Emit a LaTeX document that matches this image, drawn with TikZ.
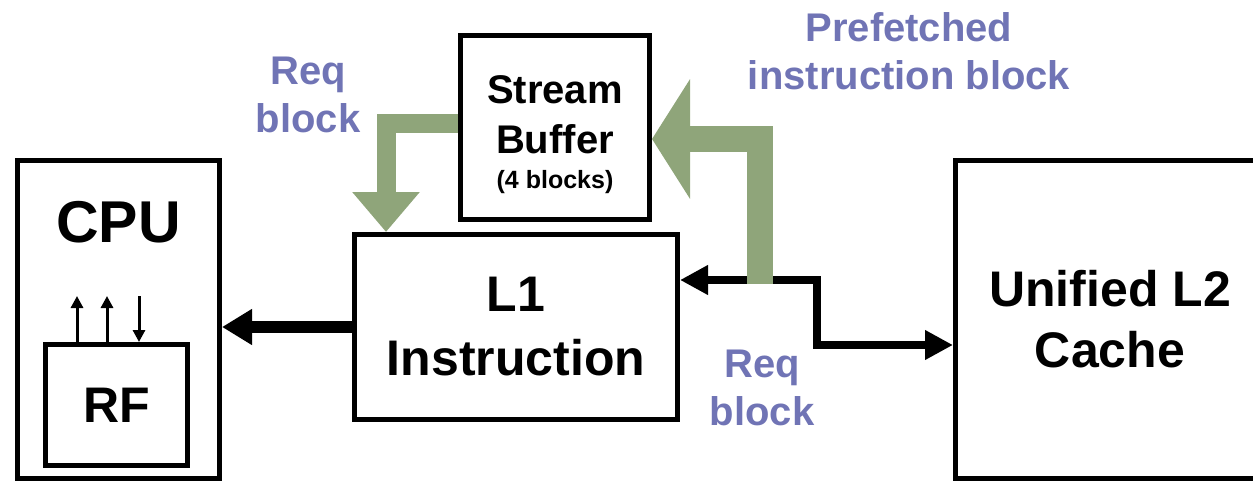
\documentclass[tikz,border=0pt]{standalone}
\usepackage{fontspec}
\setmainfont{Liberation Sans}
\usetikzlibrary{arrows.meta,calc,positioning}
\definecolor{fetchgreen}{HTML}{8FA57A}
\definecolor{notes}{HTML}{7074B5}

\begin{document}
\begin{tikzpicture}[x=1pt,y=-1pt,
 every node/.style={font=\bfseries,align=center,inner sep=0pt},
 unit/.style={draw,line width=5pt,inner sep=0pt},
 note/.style={text=notes,font=\bfseries\fontsize{40}{48}\selectfont},
 link/.style={line width=12pt,-{Triangle[length=30pt,width=34pt]}},
 bus/.style={line width=8pt,{Triangle[length=28pt,width=28pt]}-{Triangle[length=28pt,width=28pt]}},
 wire/.style={line width=3pt,-{Triangle[length=12pt,width=12pt]}},
 feed/.style={draw=fetchgreen}]
 \clip (0,0) rectangle (1253,484);
 % processor side
 \node[unit,minimum width=202pt,minimum height=318pt] (cpu) at (118.5,319.5) {};
 \node[font=\bfseries\fontsize{59}{70}\selectfont,below=43pt of cpu.north] (cputag) {CPU};
 \node[unit,minimum width=142pt,minimum height=121pt,font=\bfseries\fontsize{50}{60}\selectfont] (rf) at (116.5,405) {RF};
 % caches
 \node[unit,minimum width=323pt,minimum height=185pt,font=\bfseries\fontsize{50}{64}\selectfont] (l1) at (516,327) {L1\\Instruction};
 \node[unit,minimum width=189pt,minimum height=184pt] (sb) at (555,127.5) {};
 \node[font=\bfseries\fontsize{40}{50}\selectfont] (sbtag) at ([yshift=-7pt]sb.center) {Stream\\Buffer\\[-15pt]{\fontsize{25}{30}\selectfont (4 blocks)}};
 \node[unit,minimum width=309pt,minimum height=318pt,font=\bfseries\fontsize{50}{61}\selectfont] (l2) at (1110,319.5) {Unified L2\\Cache};
 % labels
 \node[note] (reqtop) at (308,95) {Req\\block};
 \node[note] (prefetch) at (909,51) {Prefetched\\instruction block};
 \node[note] (reqlow) at (762,388) {Req\\block};
 % register file ports
 \foreach \dx/\nm in {-39.5/pa,-9.5/pb,22.5/pc}
  \coordinate (\nm) at ([xshift=\dx pt,yshift=46pt]rf.north);
 \draw[wire] (pa |- rf.north) -- (pa);
 \draw[wire] (pb |- rf.north) -- (pb);
 \draw[wire] (pc) -- (pc |- rf.north);
 % black connectors
 \coordinate (jog) at (817,312);
 \coordinate (tap) at (760,284);
 \draw[link] (l1.west) -- (l1.west -| cpu.east);
 \draw[bus] ([yshift=47pt]l1.east) -| (jog) |- ([yshift=-25.5pt]l2.west);
 % green block arrows
 \draw[feed,line width=19pt,-{Triangle[length=40pt,width=65pt]}] ([yshift=3.5pt]sb.west) -| ([xshift=-130pt]l1.north);
 \draw[feed,line width=26pt,-{Triangle[length=38pt,width=118pt]}] (tap) |- ([yshift=-11.5pt]sb.east);
\end{tikzpicture}
\end{document}
